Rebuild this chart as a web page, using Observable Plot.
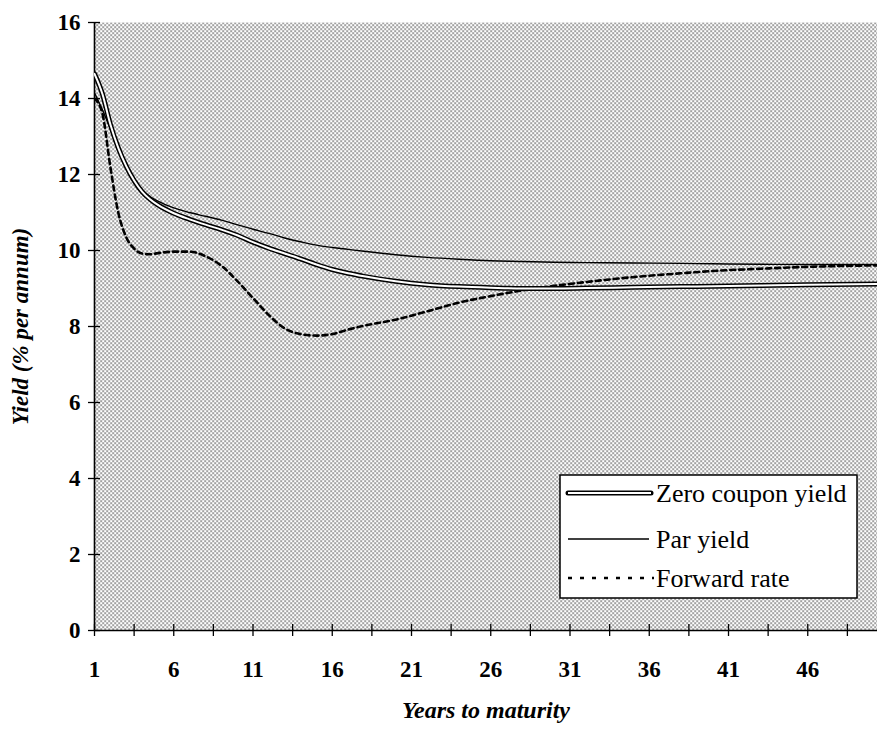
<!DOCTYPE html>
<html>
<head>
<meta charset="utf-8">
<script src="https://cdn.jsdelivr.net/npm/d3@7"></script>
<script src="https://cdn.jsdelivr.net/npm/@observablehq/plot@0.6"></script>
<style>
  html, body { margin: 0; padding: 0; background: white; }
</style>
</head>
<body>
<div id="chart"></div>
<script>
// Years to maturity
const maturities = [1, 1.5, 2, 2.5, 3, 3.5, 4, 4.5, 5, 6, 7, 8, 9, 10, 11, 12, 13, 14, 15, 16, 17, 18, 20, 22, 24, 26, 28, 30, 32, 35, 38, 40, 43, 46, 50.5];
// Zero coupon yield (% per annum)
const zeroYield = [14.65, 14.12, 13.32, 12.7, 12.22, 11.84, 11.55, 11.35, 11.2, 10.98, 10.82, 10.68, 10.55, 10.4, 10.22, 10.06, 9.92, 9.78, 9.63, 9.5, 9.4, 9.32, 9.19, 9.1, 9.05, 9.02, 9.0, 9.0, 9.01, 9.03, 9.05, 9.06, 9.08, 9.1, 9.12];
// Par yield (% per annum)
const parYield = [14.15, 13.7, 13.2, 12.68, 12.22, 11.86, 11.6, 11.42, 11.3, 11.12, 11.0, 10.9, 10.8, 10.68, 10.56, 10.45, 10.33, 10.23, 10.14, 10.08, 10.03, 9.98, 9.89, 9.82, 9.77, 9.73, 9.71, 9.69, 9.68, 9.67, 9.66, 9.65, 9.64, 9.63, 9.63];
// Forward rate (% per annum)
const forwardRate = [14.0, 13.6, 12.2, 11.0, 10.35, 10.05, 9.92, 9.9, 9.93, 9.97, 9.97, 9.85, 9.6, 9.2, 8.75, 8.3, 7.95, 7.8, 7.76, 7.8, 7.92, 8.02, 8.18, 8.4, 8.63, 8.8, 8.95, 9.07, 9.17, 9.3, 9.4, 9.46, 9.52, 9.57, 9.61];

const xTickMarks = [1, 3.5, 6, 8.5, 11, 13.5, 16, 18.5, 21, 23.5, 26, 28.5, 31, 33.5, 36, 38.5, 41, 43.5, 46, 48.5];
const xTickLabels = [1, 6, 11, 16, 21, 26, 31, 36, 41, 46];
const yTicks = [0, 2, 4, 6, 8, 10, 12, 14, 16];

const seriesNames = ["Zero coupon yield", "Par yield", "Forward rate"];
const xTitle = "Years to maturity";
const yTitle = "Yield (% per annum)";

const toRows = (vals) => maturities.map((m, i) => ({m, v: vals[i]}));
const zeroRows = toRows(zeroYield);
const parRows = toRows(parYield);
const fwdRows = toRows(forwardRate);

const serif = "'Liberation Serif', 'Times New Roman', Times, serif";

const chart = Plot.plot({
  width: 877,
  height: 732,
  marginTop: 22,
  marginLeft: 94,
  marginRight: 0,
  marginBottom: 102,
  x: {domain: [1, 50.4]},
  y: {domain: [0, 16]},
  style: {fontFamily: serif, background: "white", color: "black", overflow: "visible"},
  marks: [
    Plot.frame({fill: "url(#dots)", stroke: "none"}),
    Plot.axisY({ticks: yTicks, tickSize: 0, tickPadding: 14, fontSize: 23, fontWeight: "bold", label: null}),
    Plot.axisY({ticks: yTicks, tickSize: 12, dx: 6, tickFormat: () => "", label: null, strokeWidth: 1.3}),
    Plot.axisX({ticks: xTickLabels, tickSize: 0, tickPadding: 30, fontSize: 23, fontWeight: "bold", label: null}),
    Plot.axisX({ticks: xTickMarks, tickSize: 12, dy: -6, tickFormat: () => "", label: null, strokeWidth: 1.3}),
    Plot.ruleY([0], {stroke: "black", strokeWidth: 1.6}),
    Plot.ruleX([1], {stroke: "black", strokeWidth: 1.6}),
    Plot.line(fwdRows, {x: "m", y: "v", stroke: "black", strokeWidth: 2.6, strokeDasharray: "5,4", curve: "monotone-x", clip: true}),
    Plot.line(parRows, {x: "m", y: "v", stroke: "black", strokeWidth: 1.4, curve: "monotone-x", clip: true}),
    Plot.line(zeroRows, {x: "m", y: "v", stroke: "black", strokeWidth: 5, curve: "monotone-x", clip: true}),
    Plot.line(zeroRows, {x: "m", y: "v", stroke: "white", strokeWidth: 2, curve: "monotone-x", clip: true}),
    Plot.text([yTitle], {frameAnchor: "left", textAnchor: "middle", lineAnchor: "middle", rotate: -90, dx: -74, fontSize: 23, fontStyle: "italic", fontWeight: "bold", fill: "black"}),
    Plot.text([xTitle], {frameAnchor: "bottom", textAnchor: "middle", lineAnchor: "middle", dy: 80, fontSize: 24, fontStyle: "italic", fontWeight: "bold", fill: "black"})
  ]
});

// dotted (stippled) background pattern
const svg = d3.select(chart);
const defs = svg.insert("defs", ":first-child");
const pat = defs.append("pattern").attr("id", "dots").attr("patternUnits", "userSpaceOnUse")
  .attr("width", 4).attr("height", 4);
pat.append("rect").attr("width", 4).attr("height", 4).attr("fill", "#ffffff");
pat.append("rect").attr("x", 0).attr("y", 0).attr("width", 1.25).attr("height", 1.25).attr("fill", "#111");
pat.append("rect").attr("x", 2).attr("y", 2).attr("width", 1.25).attr("height", 1.25).attr("fill", "#111");

// legend box
const lg = svg.append("g")
  .style("font-family", serif).style("font-size", "26px").style("text-anchor", "start")
  .style("font-weight", "normal").style("font-style", "normal");
lg.append("rect").attr("x", 560).attr("y", 475).attr("width", 297).attr("height", 123)
  .attr("fill", "white").attr("stroke", "black").attr("stroke-width", 1.5);
const rowsY = [493, 539, 578];
// zero coupon swatch (double line)
lg.append("line").attr("x1", 568).attr("x2", 651).attr("y1", rowsY[0]).attr("y2", rowsY[0])
  .attr("stroke", "black").attr("stroke-width", 5).attr("stroke-linecap", "round");
lg.append("line").attr("x1", 568).attr("x2", 651).attr("y1", rowsY[0]).attr("y2", rowsY[0])
  .attr("stroke", "white").attr("stroke-width", 2);
// par swatch
lg.append("line").attr("x1", 568).attr("x2", 649).attr("y1", rowsY[1]).attr("y2", rowsY[1])
  .attr("stroke", "black").attr("stroke-width", 1.4);
// forward swatch
lg.append("line").attr("x1", 568).attr("x2", 654).attr("y1", rowsY[2]).attr("y2", rowsY[2])
  .attr("stroke", "black").attr("stroke-width", 2.4).attr("stroke-dasharray", "4,8");
seriesNames.forEach((name, i) => {
  lg.append("text").attr("x", 656).attr("y", rowsY[i]).attr("dy", "0.35em")
    .style("text-anchor", "start").style("font-family", serif).style("font-size", "26px")
    .attr("fill", "black").text(name);
});

document.getElementById("chart").appendChild(chart);
</script>
</body>
</html>
